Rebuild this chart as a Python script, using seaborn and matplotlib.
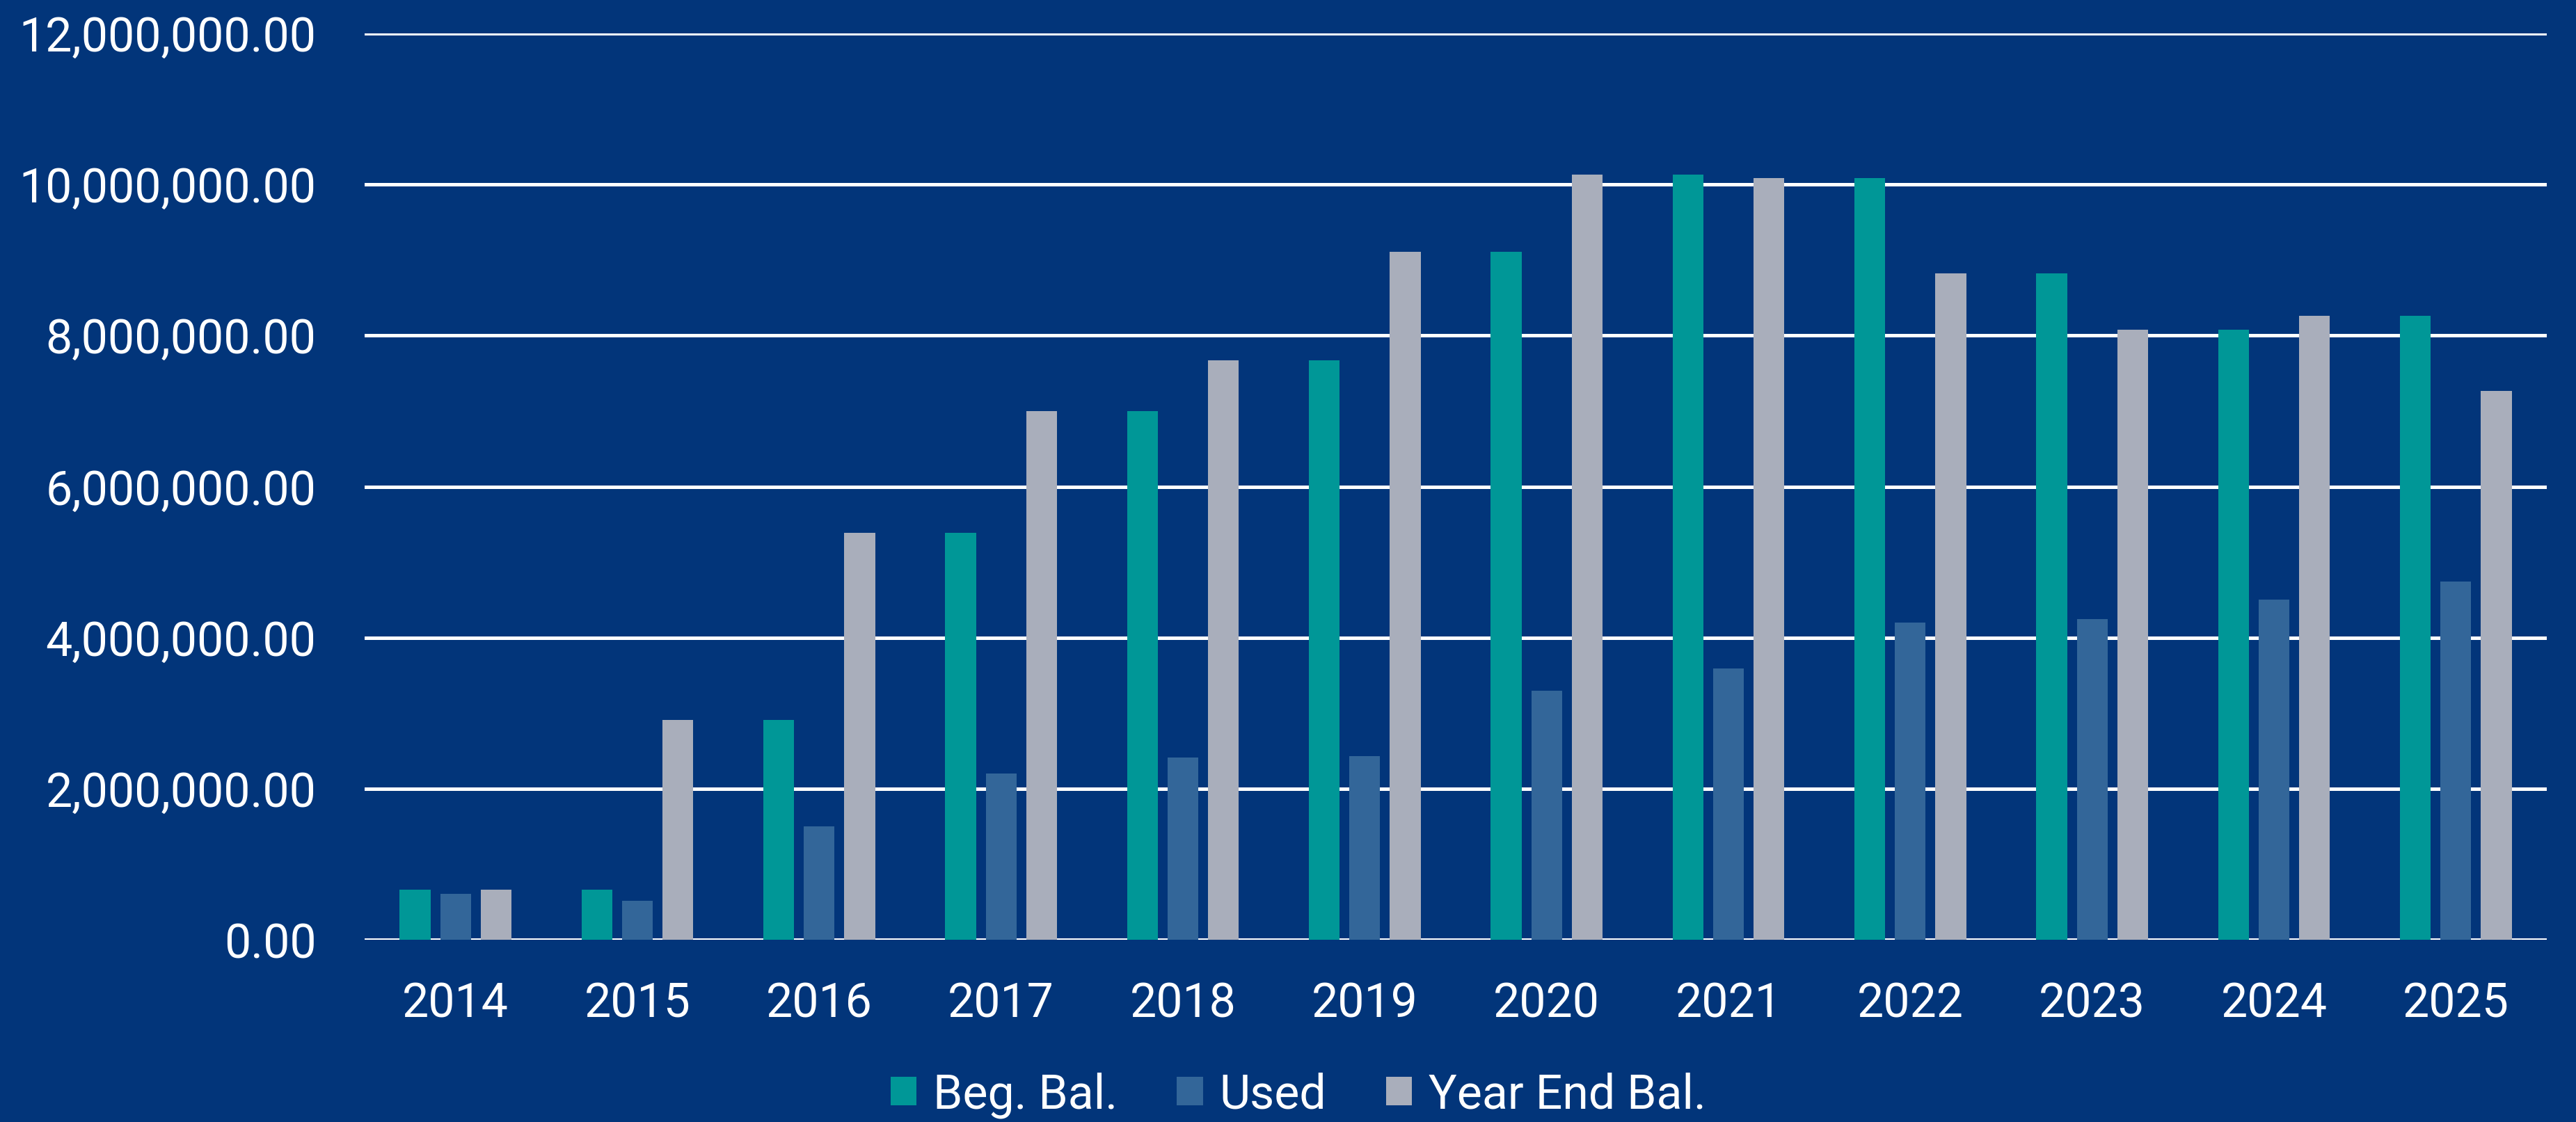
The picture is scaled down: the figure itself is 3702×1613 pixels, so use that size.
import matplotlib
matplotlib.use("Agg")
import matplotlib.pyplot as plt
import seaborn as sns
import pandas as pd
from matplotlib import font_manager
from matplotlib.ticker import FuncFormatter, MultipleLocator

years = ["2014", "2015", "2016", "2017", "2018", "2019", "2020", "2021", "2022", "2023", "2024", "2025"]
beg_bal = [660000, 660000, 2910000, 5390000, 7000000, 7670000, 9110000, 10130000, 10080000, 8820000, 8080000, 8260000]
used = [610000, 520000, 1500000, 2200000, 2410000, 2430000, 3300000, 3590000, 4200000, 4250000, 4500000, 4740000]
year_end_bal = [660000, 2910000, 5390000, 7000000, 7670000, 9110000, 10130000, 10080000, 8820000, 8080000, 8260000, 7270000]
series_names = ["Beg. Bal.", "Used", "Year End Bal."]
colors = ["#009797", "#336699", "#A9AEBB"]
bg = "#02357A"

rows = []
for name, vals in zip(series_names, [beg_bal, used, year_end_bal]):
    for y, v in zip(years, vals):
        rows.append({"Year": y, "Series": name, "Value": v})
df = pd.DataFrame(rows)

sns.set_theme(style="white")
avail = {f.name for f in font_manager.fontManager.ttflist}
fam = "Roboto" if "Roboto" in avail else "DejaVu Sans"
plt.rcParams["font.family"] = [fam, "DejaVu Sans"]

W, H = 3702, 1613
fig = plt.figure(figsize=(W / 100, H / 100), dpi=100, facecolor=bg)
left, right = 524 / W, 3660 / W
bottom, top = (H - 1351) / H, (H - 48) / H
ax = fig.add_axes([left, bottom, right - left, top - bottom], facecolor=bg)

sns.barplot(data=df, x="Year", y="Value", hue="Series", order=years,
            hue_order=series_names, palette=colors, width=0.667, gap=0.24,
            saturation=1, errorbar=None, ax=ax, legend=True, linewidth=0)

ax.set_ylim(0, 12000000)
ax.set_xlim(-0.5, 11.5)
ax.yaxis.set_major_locator(MultipleLocator(2000000))
ax.yaxis.set_major_formatter(FuncFormatter(lambda v, p: f"{v:,.2f}"))
ax.grid(axis="y", color="white", linewidth=3.6)
ax.set_axisbelow(True)
for s in ax.spines.values():
    s.set_visible(False)
ax.set_xlabel("")
ax.set_ylabel("")
fs = 49
ax.tick_params(axis="y", labelsize=fs, labelcolor="white", length=0, pad=50)
ax.tick_params(axis="x", labelsize=fs, labelcolor="white", length=0, pad=43)

handles, labels = ax.get_legend_handles_labels()
ax.get_legend().remove()
leg = fig.legend(handles, labels, loc="center", bbox_to_anchor=(0.504, 0.024),
                 ncol=3, frameon=False, fontsize=fs, handlelength=0.55,
                 handleheight=0.55, handletextpad=0.35, columnspacing=1.25,
                 borderaxespad=0)
for t in leg.get_texts():
    t.set_color("white")

fig.savefig("out.png", dpi=100, facecolor=bg)
